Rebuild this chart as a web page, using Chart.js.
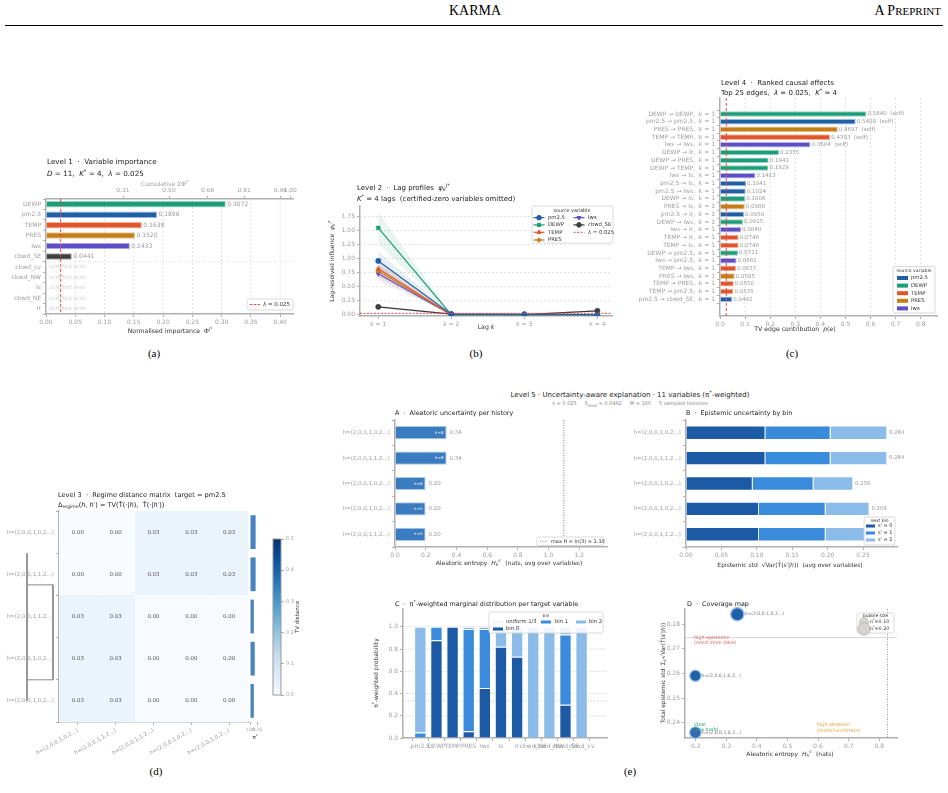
<!DOCTYPE html>
<html>
<head>
<meta charset="utf-8">
<title>KARMA figure</title>
<script src="https://cdn.jsdelivr.net/npm/chart.js"></script>
<style>
  body { margin: 0; background: #fff; }
  #page { position: relative; width: 948px; height: 793px; overflow: hidden; background: #fff; }
  #page canvas { position: absolute; }
  .serif { position: absolute; font-family: "Liberation Serif", serif; color: #000; white-space: nowrap; }
  .cap { font-size: 11px; transform: translateX(-50%); }
  .t5 { position: absolute; font-family: "DejaVu Sans", sans-serif; white-space: nowrap; transform: translateX(-50%); }
</style>
</head>
<body>
<div id="page">
  <div class="serif" style="left:475px; top:3px; font-size:14px; transform:translateX(-50%)">KARMA</div>
  <div class="serif" style="right:7px; top:3px; font-size:14px">A P<span style="font-size:11px">REPRINT</span></div>
  <div style="position:absolute; left:5px; top:25px; width:938px; height:1px; background:#000"></div>
  <div class="serif cap" style="left:154px; top:347px">(a)</div>
  <div class="serif cap" style="left:476px; top:347px">(b)</div>
  <div class="serif cap" style="left:792px; top:347px">(c)</div>
  <div class="serif cap" style="left:156px; top:765px">(d)</div>
  <div class="serif cap" style="left:630px; top:765px">(e)</div>
  <div class="t5" style="left:630px; top:389px; font-size:7px; color:#222">Level 5 · Uncertainty-aware explanation · 11 variables (π<sup style="font-size:5px">*</sup>-weighted)</div>
  <div class="t5" style="left:630px; top:400px; font-size:5px; color:#888">λ = 0.025 &nbsp;&nbsp;&nbsp; δ<sub>mod</sub> = 0.0462 &nbsp;&nbsp;&nbsp; M = 100 &nbsp;&nbsp;&nbsp; 5 sampled histories</div>
</div>
<script>
// ---------- data ----------
const lambda = 0.025;

// (a) level 1
const impVars = ['DEWP', 'pm2.5', 'TEMP', 'PRES', 'Iws', 'cbwd_SE', 'cbwd_cv', 'cbwd_NW', 'Is', 'cbwd_NE', 'Ir'];
const impVals = [0.3072, 0.1896, 0.1638, 0.1520, 0.1433, 0.0441, 0, 0, 0, 0, 0];
const impTicks = [0, 0.05, 0.10, 0.15, 0.20, 0.25, 0.30, 0.35, 0.40];
const cumTicks = [0.31, 0.50, 0.66, 0.81, 0.96, 1.00];

// (b) level 2
const lags = [1, 2, 3, 4];
const lagVars = ['pm2.5', 'DEWP', 'TEMP', 'PRES', 'Iws', 'cbwd_SE'];
const lagVals = [
  [0.96, 0.01, 0.01, 0.00],
  [1.55, 0.00, 0.00, 0.00],
  [0.82, 0.00, 0.00, 0.00],
  [0.78, 0.00, 0.00, 0.00],
  [0.73, 0.00, 0.00, 0.00],
  [0.14, 0.01, 0.00, 0.07]
];
const lagLo = [
  [0.80, 0.00, 0.00, 0.00],
  [1.27, 0.00, 0.00, 0.00],
  [0.70, 0.00, 0.00, 0.00],
  [0.66, 0.00, 0.00, 0.00],
  [0.62, 0.00, 0.00, 0.00],
  [0.12, 0.00, 0.00, 0.06]
];
const lagHi = [
  [1.13, 0.02, 0.02, 0.01],
  [1.83, 0.01, 0.01, 0.01],
  [0.95, 0.01, 0.01, 0.01],
  [0.90, 0.01, 0.01, 0.01],
  [0.86, 0.01, 0.01, 0.01],
  [0.16, 0.02, 0.01, 0.08]
];
const lagYTicks = [0, 0.25, 0.50, 0.75, 1.00, 1.25, 1.50, 1.75];

// (c) level 4
const edgeLabels = ['DEWP → DEWP', 'pm2.5 → pm2.5', 'PRES → PRES', 'TEMP → TEMP', 'Iws → Iws',
  'DEWP → Ir', 'DEWP → PRES', 'DEWP → TEMP', 'Iws → Is', 'pm2.5 → Is', 'pm2.5 → Iws', 'DEWP → Is',
  'PRES → Is', 'pm2.5 → Ir', 'DEWP → Iws', 'Iws → Ir', 'TEMP → Ir', 'TEMP → Is', 'DEWP → pm2.5',
  'Iws → pm2.5', 'TEMP → Iws', 'PRES → Iws', 'TEMP → PRES', 'TEMP → pm2.5', 'pm2.5 → cbwd_SE'];
const edgeVals = [0.5840, 0.5408, 0.4697, 0.4393, 0.3604, 0.2355, 0.1941, 0.1929, 0.1413, 0.1041,
  0.1024, 0.1006, 0.0988, 0.0958, 0.0915, 0.0840, 0.0746, 0.0746, 0.0721, 0.0661, 0.0637, 0.0585,
  0.0550, 0.0535, 0.0492];
const edgeLag = 1;
const edgeTicks = [0, 0.1, 0.2, 0.3, 0.4, 0.5, 0.6, 0.7, 0.8];

// (d) level 3
const regimeLabels = ['h=(2,0,0,1,0,2...)', 'h=(2,0,0,1,1,2...)', 'h=(2,0,0,1,1,2...)', 'h=(2,0,0,1,0,2...)', 'h=(2,0,0,1,0,2...)'];
const regimeDist = [
  [0.00, 0.00, 0.03, 0.03, 0.03],
  [0.00, 0.00, 0.03, 0.03, 0.03],
  [0.03, 0.03, 0.00, 0.00, 0.00],
  [0.03, 0.03, 0.00, 0.00, 0.00],
  [0.03, 0.03, 0.00, 0.00, 0.00]
];
const regimePi = [0.19, 0.19, 0.13, 0.16, 0.13];
const piTicks = [0, 0.25];
const cbarTicks = [0, 0.1, 0.2, 0.3, 0.4, 0.5];
// dendrogram segments: [row, height] pairs
const dendroSegs = [
  [[0.5, 0.03], [4.0, 0.03]],
  [[1.25, 0.03], [1.25, 0.004]],
  [[1.25, 0.004], [3.5, 0.004]],
  [[3.5, 0.004], [3.5, 0.03]]
];

// (e) level 5
const histLabels = ['h=(2,0,0,1,0,2...)', 'h=(2,0,0,1,1,2...)', 'h=(2,0,0,1,0,2...)', 'h=(2,0,0,1,0,2...)', 'h=(2,0,0,1,1,2...)'];
const histCounts = [8, 8, 6, 5, 5];
const aleatoric = [0.336, 0.336, 0.199, 0.199, 0.199];
const epiBin0 = [0.112, 0.112, 0.094, 0.103, 0.103];
const epiBin1 = [0.092, 0.092, 0.086, 0.094, 0.094];
const epiBin2 = [0.080, 0.080, 0.056, 0.062, 0.062];
const histPi = [0.18, 0.18, 0.14, 0.13, 0.13];
const maxH = Math.log(3);
const aleTicks = [0, 0.2, 0.4, 0.6, 0.8, 1.0, 1.2];
const epiTicks = [0, 0.05, 0.10, 0.15, 0.20, 0.25];
const targets = ['pm2.5', 'DEWP', 'TEMP', 'PRES', 'Iws', 'Is', 'Ir', 'cbwd_NE', 'cbwd_NW', 'cbwd_SE', 'cbwd_cv'];
const margBin0 = [0.00, 0.88, 1.00, 0.06, 0.45, 0.82, 0.73, 0.00, 0.00, 0.30, 0.00];
const margBin1 = [0.05, 0.12, 0.00, 0.92, 0.53, 0.00, 0.00, 0.00, 0.00, 0.63, 0.00];
const margBin2 = [0.95, 0.00, 0.00, 0.02, 0.02, 0.18, 0.27, 1.00, 1.00, 0.07, 1.00];
const probTicks = [0, 0.2, 0.4, 0.6, 0.8, 1.0];
const covXTicks = [0.2, 0.3, 0.4, 0.5, 0.6, 0.7, 0.8];
const covYTicks = [0.24, 0.25, 0.26, 0.27, 0.28];
const epiThresh = 0.2745;
const aleThresh = 0.827;
const legendPi = [0.10, 0.20];

// ---------- style ----------
const varColor = { 'pm2.5': '#1f5fa8', 'DEWP': '#1b9e77', 'TEMP': '#e0562b', 'PRES': '#c67d17', 'Iws': '#5c4ec6', 'cbwd_SE': '#3d3d3d' };
const binColor = ['#1c5aa6', '#3a8bdb', '#8abbe9'];
const GRAY = '#9d9d9d', SPINE = '#b0b0b0', GRID = '#d9d9d9', DARK = '#222', LAB = '#333', RED = '#e8474a';

Chart.defaults.font.family = '"DejaVu Sans"';
Chart.defaults.font.size = 6;
Chart.defaults.color = GRAY;

const page = document.getElementById('page');

function rgb(h) { return [1, 3, 5].map(i => parseInt(h.substr(i, 2), 16)); }
function alpha(h, a) { return 'rgba(' + rgb(h).join(',') + ',' + a + ')'; }
function light(h) { return 'rgb(' + rgb(h).map(v => Math.round(v + (255 - v) * 0.55)).join(',') + ')'; }
const blueStops = ['#f7fbff', '#deebf7', '#c6dbef', '#9ecae1', '#6baed6', '#4292c6', '#2171b5', '#08519c', '#08306b'];
function blues(t) {
  t = Math.max(0, Math.min(1, t));
  const f = t * 8, i = Math.min(7, Math.floor(f)), u = f - i;
  const a = rgb(blueStops[i]), b = rgb(blueStops[i + 1]);
  return 'rgb(' + a.map((v, k) => Math.round(v + (b[k] - v) * u)).join(',') + ')';
}

function rich(c, parts, x, y, size, color, align, rot) {
  const segs = parts.map(p => typeof p === 'string' ? [p, ''] : p);
  const fnt = m => (m.includes('i') ? 'italic ' : '') + ((m.includes('^') || m.includes('_')) ? size * 0.7 : size) + 'px "DejaVu Sans"';
  let w = 0;
  segs.forEach(([t, m]) => { c.font = fnt(m); w += c.measureText(t).width; });
  c.save();
  c.translate(x, y);
  if (rot) c.rotate(rot);
  let cx = align === 'center' ? -w / 2 : align === 'right' ? -w : 0;
  c.fillStyle = color; c.textBaseline = 'middle'; c.textAlign = 'left';
  segs.forEach(([t, m]) => {
    c.font = fnt(m);
    const dy = m.includes('^') ? -size * 0.35 : m.includes('_') ? size * 0.3 : 0;
    c.fillText(t, cx, dy);
    cx += c.measureText(t).width;
  });
  c.restore();
}
const txt = (c, s, x, y, size, color, align, rot) => rich(c, [s], x, y, size, color, align, rot);

function seg(c, x1, y1, x2, y2, color, w, dash) {
  c.save(); c.strokeStyle = color; c.lineWidth = w; c.setLineDash(dash || []);
  c.beginPath(); c.moveTo(x1, y1); c.lineTo(x2, y2); c.stroke(); c.restore();
}
function lbox(c, x, y, w, h) {
  c.save(); c.fillStyle = 'rgba(255,255,255,0.85)'; c.strokeStyle = '#d0d0d0'; c.lineWidth = 0.8;
  c.beginPath(); c.roundRect(x, y, w, h, 1.5); c.fill(); c.stroke(); c.restore();
}
function patch(c, x, y, w, h, color) { c.fillStyle = color; c.fillRect(x, y, w, h); }

const fix = vals => sc => { sc.ticks = vals.map(v => ({ value: v })); };

function ax(o) {
  const g = Object.assign({ drawOnChartArea: false, tickLength: 3, tickColor: SPINE, tickWidth: 1 }, o.grid || {});
  const b = Object.assign({ color: SPINE, width: 1.5 }, o.border || {});
  const t = Object.assign({ color: GRAY, padding: 2, font: { size: 6 }, autoSkip: false, maxRotation: 0 }, o.ticks || {});
  return Object.assign({}, o, { grid: g, border: b, ticks: t });
}

// one chart per panel; plot area pinned to page coordinates
function build(box, plot, cfg, under, over) {
  const cv = document.createElement('canvas');
  cv.width = box.w; cv.height = box.h;
  Object.assign(cv.style, { left: box.x + 'px', top: box.y + 'px', width: box.w + 'px', height: box.h + 'px' });
  page.appendChild(cv);
  const o = cfg.options = cfg.options || {};
  o.responsive = false; o.animation = false; o.devicePixelRatio = 1;
  o.plugins = Object.assign({ legend: { display: false }, tooltip: { enabled: false } }, o.plugins || {});
  const side = { top: 0, right: 0 };
  let hasL = false, hasB = false;
  for (const id in (o.scales || {})) {
    const s = o.scales[id];
    if (s.display === false) continue;
    const pos = s.position || (id[0] === 'x' ? 'bottom' : 'left');
    if (pos === 'left') hasL = true;
    if (pos === 'bottom') hasB = true;
    if (pos === 'top' || pos === 'right') side[pos] += s.fitSize;
    s.afterFit = sc => {
      if (pos === 'left') sc.width = plot.l - box.x;
      else if (pos === 'bottom') sc.height = box.y + box.h - plot.b;
      else if (pos === 'top') sc.height = s.fitSize;
      else sc.width = s.fitSize;
      sc.paddingLeft = sc.paddingRight = sc.paddingTop = sc.paddingBottom = 0;
    };
  }
  o.layout = { padding: {
    left: hasL ? 0 : plot.l - box.x,
    bottom: hasB ? 0 : box.y + box.h - plot.b,
    top: plot.t - box.y - side.top,
    right: box.x + box.w - plot.r - side.right } };
  const H = chart => ({
    X: (v, id) => chart.scales[id || 'x'].getPixelForValue(v) + box.x,
    Y: (v, id) => chart.scales[id || 'y'].getPixelForValue(v) + box.y,
    A: { l: chart.chartArea.left + box.x, r: chart.chartArea.right + box.x, t: chart.chartArea.top + box.y, b: chart.chartArea.bottom + box.y }
  });
  const run = (chart, fn) => { if (!fn) return; const c = chart.ctx; c.save(); c.translate(-box.x, -box.y); fn(c, H(chart)); c.restore(); };
  cfg.plugins = (cfg.plugins || []).concat([{ id: 'deco',
    beforeDatasetsDraw(chart) { run(chart, under); },
    afterDraw(chart) { run(chart, over); } }]);
  return new Chart(cv, cfg);
}

// ---------- (a) Level 1 ----------
build({ x: 0, y: 150, w: 310, h: 190 }, { l: 46, t: 199, r: 293, b: 314 }, {
  type: 'bar',
  data: { labels: impVars, datasets: [{
    data: impVals,
    backgroundColor: impVars.map(v => varColor[v] || '#ccc'),
    borderColor: impVars.map(v => light(varColor[v] || '#cccccc')),
    borderWidth: 1, barPercentage: 0.62, categoryPercentage: 1 }] },
  options: { indexAxis: 'y', scales: {
    x: ax({ type: 'linear', min: 0, max: 0.422, afterBuildTicks: fix(impTicks), ticks: { callback: v => v.toFixed(2) } }),
    x2: ax({ type: 'linear', position: 'top', fitSize: 11, min: -0.008, max: 1.012, afterBuildTicks: fix(cumTicks), ticks: { callback: v => v.toFixed(2) } }),
    y: ax({ type: 'category' })
  } }
}, (c, h) => {
  impTicks.slice(1).forEach(v => seg(c, h.X(v), h.A.t, h.X(v), h.A.b, GRID, 0.8, [2, 2]));
}, (c, h) => {
  seg(c, h.X(lambda), h.A.t, h.X(lambda), h.A.b, RED, 1, [3, 2]);
  seg(c, h.A.l, h.Y(5.5), h.A.r, h.Y(5.5), '#cfcfcf', 0.8, [1, 2]);
  impVals.forEach((v, i) => {
    if (v > 0) txt(c, v.toFixed(4), h.X(v) + 1.5, h.Y(i), 6, '#999');
    else txt(c, 'certified zero', h.X(0) + 3, h.Y(i), 5.5, '#d0d0d0');
  });
  rich(c, ['Level 1  ·  Variable importance'], 47, 162, 7.2, DARK);
  rich(c, [['D', 'i'], ' = 11,  ', ['K', 'i'], ['*', '^'], ' = 4,  ', ['λ', 'i'], ' = 0.025'], 47, 174, 7.2, DARK);
  rich(c, ['Cumulative ', 'Σ', 'Φ', ['j*', '^']], 165, 184, 6, GRAY, 'center');
  rich(c, ['Normalised importance  ', 'Φ', ['j*', '^']], 170, 331, 6.2, LAB, 'center');
  lbox(c, 247, 299, 46, 11);
  seg(c, 250, 304.5, 260, 304.5, RED, 1, [2.5, 1.5]);
  rich(c, [['λ', 'i'], ' = 0.025'], 263, 304.5, 5.5, LAB);
});

// ---------- (b) Level 2 ----------
const lagStyle = ['circle', 'rect', 'triangle', 'rectRot', 'triangle', 'circle'];
const lagRot = [0, 0, 0, 0, 180, 0];
const bSets = [];
lagVars.forEach((v, i) => {
  const col = varColor[v];
  bSets.push({ data: lags.map((k, j) => ({ x: k, y: lagLo[i][j] })), borderWidth: 0, pointRadius: 0, fill: false, order: 2 });
  bSets.push({ data: lags.map((k, j) => ({ x: k, y: lagHi[i][j] })), borderWidth: 0, pointRadius: 0, fill: '-1', backgroundColor: alpha(col, 0.10), order: 2 });
});
lagVars.forEach((v, i) => {
  const col = varColor[v];
  bSets.push({ data: lags.map((k, j) => ({ x: k, y: lagVals[i][j] })), borderColor: col, backgroundColor: col,
    borderWidth: 1.2, pointStyle: lagStyle[i], pointRotation: lagRot[i], pointRadius: 2.6, pointBorderWidth: 0.6, pointBorderColor: col, order: 0, fill: false });
});
build({ x: 310, y: 180, w: 315, h: 160 }, { l: 360, t: 206, r: 612, b: 316 }, {
  type: 'line',
  data: { datasets: bSets },
  options: { scales: {
    x: ax({ type: 'linear', min: 0.75, max: 4.2, afterBuildTicks: fix(lags), ticks: { callback: v => 'k = ' + v } }),
    y: ax({ type: 'linear', min: -0.023, max: 1.94, afterBuildTicks: fix(lagYTicks), ticks: { callback: v => v.toFixed(2) } })
  } }
}, (c, h) => {
  lagYTicks.slice(1).forEach(v => seg(c, h.A.l, h.Y(v), h.A.r, h.Y(v), GRID, 0.8, [2, 2]));
}, (c, h) => {
  seg(c, h.A.l, h.Y(lambda), h.A.r, h.Y(lambda), RED, 1, [2, 1.5]);
  rich(c, ['Level 2  ·  Lag profiles  ', ['φ', 'i'], ['k', '_i'], ['j*', '^']], 357, 188, 7, DARK);
  rich(c, [['K', 'i'], ['*', '^'], ' = 4 lags  (certified-zero variables omitted)'], 357, 199, 7, DARK);
  rich(c, ['Lag-resolved influence  ', ['φ', 'i'], ['k', '_i'], ['j*', '^']], 332, 261, 6, LAB, 'center', -Math.PI / 2);
  rich(c, ['Lag ', ['k', 'i']], 486, 327, 6.2, LAB, 'center');
  lbox(c, 532, 206, 81, 37);
  txt(c, 'source variable', 572, 210.5, 4.8, LAB, 'center');
  const rows = [217.7, 224.9, 232.3, 240];
  lagVars.forEach((v, i) => {
    const col = varColor[v];
    const x0 = i < 4 ? 533.5 : 573.5, y0 = rows[i < 4 ? i : i - 4];
    seg(c, x0, y0, x0 + 11, y0, col, 1.2);
    c.fillStyle = col; c.strokeStyle = col;
    Chart.helpers.drawPoint(c, { pointStyle: lagStyle[i], rotation: lagRot[i], radius: 2.3, borderWidth: 0.5 }, x0 + 5.5, y0);
    txt(c, v, x0 + 14.5, y0, 5.3, LAB);
  });
  seg(c, 573.5, rows[2], 584.5, rows[2], RED, 1, [2, 1.5]);
  rich(c, [['λ', 'i'], ' = 0.025'], 588, rows[2], 5.3, LAB);
});

// ---------- (c) Level 4 ----------
const edgeSrc = edgeLabels.map(e => e.split(' → ')[0]);
build({ x: 625, y: 75, w: 323, h: 265 }, { l: 720, t: 98, r: 937, b: 316 }, {
  type: 'bar',
  data: { datasets: [{
    data: edgeVals.map((v, i) => ({ x: v, y: i })),
    backgroundColor: edgeSrc.map(s => varColor[s]),
    borderColor: edgeSrc.map(s => light(varColor[s])),
    borderWidth: 1, barPercentage: 0.8, categoryPercentage: 0.9 }] },
  options: { indexAxis: 'y', scales: {
    x: ax({ type: 'linear', min: 0, max: 0.865, afterBuildTicks: fix(edgeTicks), ticks: { callback: v => v.toFixed(1) } }),
    y: ax({ type: 'linear', reverse: true, min: -1.5, max: 25.6, afterBuildTicks: fix(edgeVals.map((_, i) => i)),
      ticks: { callback: v => edgeLabels[v] + ',  k = ' + edgeLag } })
  } }
}, (c, h) => {
  edgeTicks.slice(1).forEach(v => seg(c, h.X(v), h.A.t, h.X(v), h.A.b, GRID, 0.8, [2, 2]));
}, (c, h) => {
  seg(c, h.X(lambda), h.A.t, h.X(lambda), h.A.b, RED, 1, [3, 2]);
  edgeVals.forEach((v, i) => {
    const self = edgeSrc[i] === edgeLabels[i].split(' → ')[1];
    txt(c, v.toFixed(4) + (self ? '  (self)' : ''), h.X(v) + 1, h.Y(i), 5.5, '#999');
  });
  txt(c, 'Level 4  ·  Ranked causal effects', 721, 83, 7, DARK);
  rich(c, ['Top 25 edges,  ', ['λ', 'i'], ' = 0.025,  ', ['K', 'i'], ['*', '^'], ' = 4'], 721, 93, 7, DARK);
  rich(c, ['TV edge contribution  ', ['p', 'i'], '(', ['e', 'i'], ')'], 795, 329, 6.2, LAB, 'center');
  lbox(c, 893, 266.5, 42, 46.5);
  txt(c, 'source variable', 914, 271, 4.6, LAB, 'center');
  ['pm2.5', 'DEWP', 'TEMP', 'PRES', 'Iws'].forEach((v, i) => {
    const y0 = 278 + i * 7.6;
    patch(c, 897, y0 - 2, 11, 4, varColor[v]);
    txt(c, v, 911, y0, 5.3, LAB);
  });
});

// ---------- (d) Level 3 ----------
build({ x: 15, y: 480, w: 45, h: 290 }, { l: 22, t: 511, r: 57, b: 722 }, {
  type: 'line',
  data: { datasets: dendroSegs.map(s => ({ data: s.map(([r, d]) => ({ x: d, y: r })), borderColor: '#8a8a8a', borderWidth: 1, pointRadius: 0, fill: false })) },
  options: { scales: {
    x: { type: 'linear', display: false, reverse: true, min: 0, max: 0.035 },
    y: { type: 'linear', display: false, reverse: true, min: -0.5, max: 4.5 }
  } }
});

build({ x: 0, y: 480, w: 250, h: 290 }, { l: 59, t: 511, r: 248, b: 722 }, {
  type: 'bar',
  data: { labels: regimeLabels, datasets: regimeLabels.map((_, j) => ({
    data: regimeDist.map(() => [j, j + 1]),
    backgroundColor: regimeDist.map(row => blues(row[j] / 0.5)),
    borderWidth: 0, grouped: false, barPercentage: 1, categoryPercentage: 1 })) },
  options: { indexAxis: 'y', scales: {
    x: ax({ type: 'linear', min: 0, max: regimeLabels.length, afterBuildTicks: fix(regimeLabels.map((_, j) => j + 0.5)),
      ticks: { callback: (v) => regimeLabels[Math.floor(v)], minRotation: 30, maxRotation: 30, font: { size: 5.5 } } }),
    y: ax({ type: 'category', ticks: { font: { size: 5.5 } } })
  } }
}, null, (c, h) => {
  regimeDist.forEach((row, i) => row.forEach((v, j) => txt(c, v.toFixed(2), h.X(j + 0.5), h.Y(i), 5.5, '#555', 'center')));
  txt(c, 'Level 3  ·  Regime distance matrix  target = pm2.5', 58, 495, 6.6, DARK);
  rich(c, ['Δ', ['regime', '_'], '(', ['h', 'i'], ', ', ['h′', 'i'], ') = TV(', 'T\u0302', '(·|', ['h', 'i'], '),  ', 'T\u0302', '(·|', ['h′', 'i'], '))'], 58, 505, 6.6, DARK);
});

build({ x: 246, y: 480, w: 20, h: 290 }, { l: 250, t: 511, r: 258, b: 722 }, {
  type: 'bar',
  data: { labels: regimeLabels, datasets: [{ data: regimePi, backgroundColor: '#4a84bf', barPercentage: 0.8, categoryPercentage: 1 }] },
  options: { indexAxis: 'y', scales: {
    x: ax({ type: 'linear', min: 0, max: 0.27, afterBuildTicks: fix(piTicks), border: { display: false }, ticks: { font: { size: 4.5 }, callback: v => v.toFixed(2) } }),
    y: { type: 'category', display: false }
  } }
}, null, (c, h) => {
  rich(c, ['π', ['*', '^']], 255, 738, 5.5, LAB, 'center');
});

build({ x: 266, y: 530, w: 45, h: 175 }, { l: 273, t: 539, r: 281, b: 695 }, {
  type: 'bar',
  data: { labels: [''], datasets: [{ data: [[cbarTicks[0], cbarTicks[cbarTicks.length - 1]]], barPercentage: 1, categoryPercentage: 1,
    backgroundColor: ctx => {
      const a = ctx.chart.chartArea;
      if (!a) return '#ccc';
      const g = ctx.chart.ctx.createLinearGradient(0, a.bottom, 0, a.top);
      for (let k = 0; k <= 20; k++) g.addColorStop(k / 20, blues(k / 20));
      return g;
    } }] },
  options: { scales: {
    x: { type: 'category', display: false },
    y: ax({ type: 'linear', position: 'right', fitSize: 14, min: 0, max: 0.5, afterBuildTicks: fix(cbarTicks), border: { display: false },
      ticks: { font: { size: 5 }, callback: v => v.toFixed(1) } })
  } }
}, null, (c, h) => {
  c.save(); c.strokeStyle = '#999'; c.lineWidth = 1; c.strokeRect(h.A.l, h.A.t, h.A.r - h.A.l, h.A.b - h.A.t); c.restore();
  txt(c, 'TV distance', 298, 617, 5.5, LAB, 'center', -Math.PI / 2);
});

// ---------- (e) A ----------
build({ x: 330, y: 405, w: 310, h: 165 }, { l: 395, t: 420, r: 607, b: 547 }, {
  type: 'bar',
  data: { labels: histLabels, datasets: [{ data: aleatoric, backgroundColor: '#3b7bbf', borderColor: '#a9c8ea', borderWidth: 1, barPercentage: 0.52, categoryPercentage: 1 }] },
  options: { indexAxis: 'y', scales: {
    x: ax({ type: 'linear', min: 0, max: 1.38, afterBuildTicks: fix(aleTicks), ticks: { callback: v => v.toFixed(1) } }),
    y: ax({ type: 'category', ticks: { font: { size: 5.5 } } })
  } }
}, null, (c, h) => {
  seg(c, h.X(maxH), h.A.t, h.X(maxH), h.A.b, '#777', 0.9, [1, 1.5]);
  aleatoric.forEach((v, i) => {
    txt(c, v.toFixed(2), h.X(v) + 3, h.Y(i), 5.5, '#999');
    txt(c, 'n=' + histCounts[i], h.X(v) - 3, h.Y(i), 4.2, '#e8f0fa', 'right');
  });
  txt(c, 'A  ·  Aleatoric uncertainty per history', 395, 413, 6.4, DARK);
  lbox(c, 537, 537, 67, 8.5);
  seg(c, 540, 541.3, 548, 541.3, '#777', 0.9, [1, 1.5]);
  txt(c, 'max H = ln(3) = ' + maxH.toFixed(2), 551, 541.3, 5, LAB);
  rich(c, ['Aleatoric entropy  ', ['H', 'i'], ['h', '_i'], ['s′', '^i'], '  (nats, avg over variables)'], 509, 563, 6, LAB, 'center');
});

// ---------- (e) B ----------
const epiTot = epiBin0.map((v, i) => v + epiBin1[i] + epiBin2[i]);
build({ x: 628, y: 405, w: 320, h: 165 }, { l: 686, t: 420, r: 897, b: 547 }, {
  type: 'bar',
  data: { labels: histLabels, datasets: [epiBin0, epiBin1, epiBin2].map((d, k) => ({
    data: d, backgroundColor: binColor[k], borderColor: '#fff', borderWidth: 0.8, barPercentage: 0.55, categoryPercentage: 1 })) },
  options: { indexAxis: 'y', scales: {
    x: ax({ type: 'linear', stacked: true, min: 0, max: 0.298, afterBuildTicks: fix(epiTicks), ticks: { callback: v => v.toFixed(2) } }),
    y: ax({ type: 'category', stacked: true, ticks: { font: { size: 5.5 } } })
  } }
}, null, (c, h) => {
  epiTot.forEach((v, i) => txt(c, v.toFixed(3), h.X(v) + 2, h.Y(i), 5.3, '#999'));
  txt(c, 'B  ·  Epistemic uncertainty by bin', 686, 413, 6.4, DARK);
  lbox(c, 864, 517, 31, 28);
  txt(c, 'next bin', 879.5, 520.5, 4.4, LAB, 'center');
  binColor.forEach((col, k) => {
    const y0 = 526 + k * 7;
    patch(c, 866, y0 - 1.5, 9, 3, col);
    txt(c, "s' = " + k, 878, y0, 5, LAB);
  });
  rich(c, ['Epistemic std  ', '√', 'Var(', 'T\u0302', '(', ['s′', 'i'], '|', ['h', 'i'], '))', '  (avg over variables)'], 790, 565, 6, LAB, 'center');
});

// ---------- (e) C ----------
build({ x: 340, y: 590, w: 300, h: 170 }, { l: 403, t: 609, r: 607, b: 738 }, {
  type: 'bar',
  data: { datasets: [margBin0, margBin1, margBin2].map((d, k) => ({
    data: d.map((v, i) => ({ x: i, y: v })), backgroundColor: binColor[k], borderColor: '#fff', borderWidth: 1,
    barPercentage: 0.85, categoryPercentage: 0.9 })) },
  options: { scales: {
    x: ax({ type: 'linear', stacked: true, min: -0.5, max: 11, afterBuildTicks: fix(targets.map((_, i) => i)), ticks: { callback: v => targets[v], font: { size: 6 } } }),
    y: ax({ type: 'linear', stacked: true, min: 0, max: 1.16, afterBuildTicks: fix(probTicks), ticks: { callback: v => v.toFixed(1) } })
  } }
}, (c, h) => {
  probTicks.slice(1).forEach(v => seg(c, h.A.l, h.Y(v), h.A.r, h.Y(v), '#e3e3e3', 0.8));
  seg(c, h.A.l, h.Y(1 / 3), h.A.r, h.Y(1 / 3), '#bbb', 0.9, [1, 1.5]);
}, (c, h) => {
  rich(c, ['C  ·  π', ['*', '^'], '-weighted marginal distribution per target variable'], 395, 604, 6.4, DARK);
  rich(c, ['π', ['*', '^'], '-weighted probability'], 376, 673, 6, LAB, 'center', -Math.PI / 2);
  lbox(c, 489, 612, 114, 21);
  txt(c, 'bin', 546, 615.5, 4.4, LAB, 'center');
  seg(c, 493, 622, 503, 622, '#bbb', 0.9, [1, 1.5]);
  txt(c, 'uniform 1/3', 506, 622, 5.3, LAB);
  patch(c, 541, 620.5, 10, 3, binColor[1]); txt(c, 'bin 1', 555, 622, 5.3, LAB);
  patch(c, 576, 620.5, 10, 3, binColor[2]); txt(c, 'bin 2', 589, 622, 5.3, LAB);
  patch(c, 493, 627.5, 10, 3, binColor[0]); txt(c, 'bin 0', 506, 629, 5.3, LAB);
});

// ---------- (e) D ----------
const bubR = p => 15.6 * Math.sqrt(p);
build({ x: 640, y: 590, w: 308, h: 170 }, { l: 685, t: 609, r: 897, b: 738 }, {
  type: 'bubble',
  data: { datasets: [{ data: aleatoric.map((a, i) => ({ x: a, y: epiTot[i], r: bubR(histPi[i]) })),
    backgroundColor: 'rgba(31,95,168,0.92)', borderColor: '#a8c9ec', borderWidth: 1.2, clip: false }] },
  options: { scales: {
    x: ax({ type: 'linear', min: 0.165, max: 0.858, afterBuildTicks: fix(covXTicks), ticks: { callback: v => v.toFixed(1) } }),
    y: ax({ type: 'linear', min: 0.2338, max: 0.2861, afterBuildTicks: fix(covYTicks), ticks: { callback: v => v.toFixed(2) } })
  } }
}, (c, h) => {
  seg(c, h.A.l, h.Y(epiThresh), h.A.r, h.Y(epiThresh), '#cfcfcf', 0.9);
  seg(c, h.X(aleThresh), h.A.t, h.X(aleThresh), h.A.b, '#888', 0.9, [1, 1.5]);
}, (c, h) => {
  const seen = {};
  aleatoric.forEach((a, i) => {
    const key = a.toFixed(3) + epiTot[i].toFixed(3);
    if (seen[key]) return; seen[key] = 1;
    txt(c, histLabels[i], h.X(a) + bubR(histPi[i]) + 0.5, h.Y(epiTot[i]), 4.6, '#777');
  });
  txt(c, 'D  ·  Coverage map', 687, 604, 6.4, DARK);
  txt(c, 'high epistemic', 694, 637.7, 4.8, '#e06a6a');
  txt(c, '(need more data)', 694, 643, 4.8, '#e06a6a');
  txt(c, 'ideal', 694, 724.5, 4.8, '#2aa87a');
  txt(c, '(low both)', 694, 730, 4.8, '#2aa87a');
  txt(c, 'high aleatoric', 817, 725, 4.8, '#eaa23b');
  txt(c, '(model uncertain)', 817, 731, 4.8, '#eaa23b');
  lbox(c, 857, 613, 37, 20);
  txt(c, 'bubble size', 875.5, 616.3, 4.4, LAB, 'center');
  legendPi.forEach((p, k) => {
    const y0 = 622 + k * 7;
    c.save(); c.fillStyle = '#d6d4cd'; c.strokeStyle = '#aaa'; c.lineWidth = 0.6;
    c.beginPath(); c.arc(864, y0, bubR(p) * 0.9, 0, Math.PI * 2); c.fill(); c.stroke(); c.restore();
  });
  legendPi.forEach((p, k) => rich(c, ['π', ['*', '^'], '=' + p.toFixed(2)], 870, 622 + k * 7, 4.8, LAB));
  rich(c, ['Total epistemic std  ', 'Σ', ['s′', '_i'], '√', 'Var(', 'T\u0302', '(', ['s′', 'i'], '|', ['h', 'i'], '))'], 663, 673, 5.8, LAB, 'center', -Math.PI / 2);
  rich(c, ['Aleatoric entropy  ', ['H', 'i'], ['h', '_i'], ['s′', '^i'], '  (nats)'], 790, 754, 6, LAB, 'center');
});
</script>
</body>
</html>
